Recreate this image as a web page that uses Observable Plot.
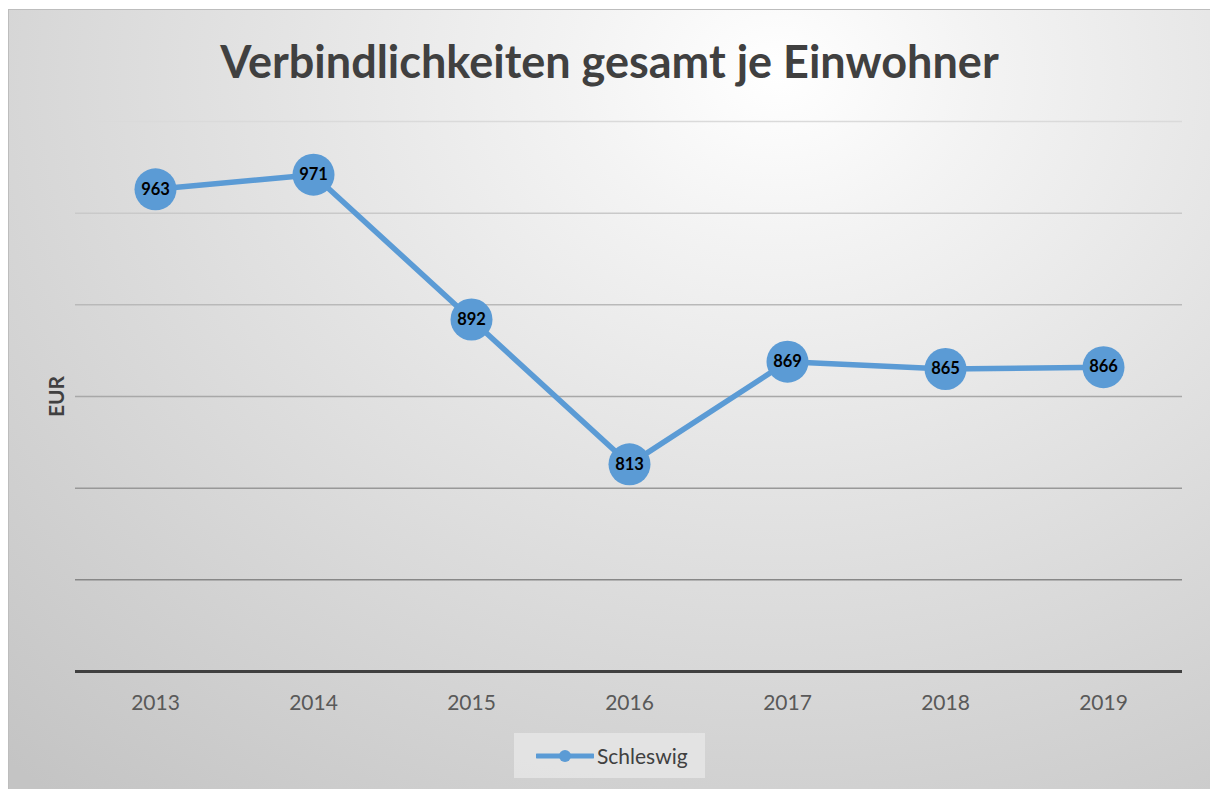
<!DOCTYPE html>
<html>
<head>
<meta charset="utf-8">
<script src="https://cdn.jsdelivr.net/npm/d3@7"></script>
<script src="https://cdn.jsdelivr.net/npm/@observablehq/plot@0.6"></script>
<style>
  html, body { margin: 0; padding: 0; width: 1210px; height: 789px; overflow: hidden; background: #ffffff; font-family: Lato, "Open Sans", sans-serif; }
  #panel {
    position: absolute; left: 8px; top: 9px; width: 1202px; height: 780px;
    box-sizing: border-box; border-top: 1px solid #bdbdbd; border-left: 1px solid #bdbdbd;
    background: radial-gradient(ellipse 95% 120% at 64% 8%, #ffffff 0%, #f3f3f3 18%, #e3e3e3 45%, #d2d2d2 75%, #c4c4c4 100%);
  }
  #title {
    position: absolute; left: 0; top: 31px; width: 1219px; text-align: center;
    font-weight: 700; font-size: 45px; color: #404040; line-height: 60px;
  }
  #chart { position: absolute; left: 0; top: 100px; }
  #legend {
    position: absolute; left: 514px; top: 733px; width: 191px; height: 45px;
    background: rgba(232, 232, 232, 0.75); display: flex; align-items: center;
    font-size: 21px; color: #404040;
  }
  #legend svg { margin-left: 22px; margin-right: 3px; }
</style>
</head>
<body>
<div id="panel"></div>
<div id="title"></div>
<div id="chart"></div>
<div id="legend"></div>
<script>
// Liabilities per inhabitant, Schleswig
const chartTitle = "Verbindlichkeiten gesamt je Einwohner";
const yLabel = "EUR";
const seriesName = "Schleswig";
const years = ["2013", "2014", "2015", "2016", "2017", "2018", "2019"];
const values = [963, 971, 892, 813, 869, 865, 866];
const gridTicks = [750, 800, 850, 900, 950, 1000];
const yDomain = [700, 1000];

const blue = "#5b9bd5";
const data = years.map((year, i) => ({year, value: values[i]}));

// gridlines fade from dark near the baseline to light at the top
const gridColor = d3.scaleLinear().domain([750, 1000]).range(["#878787", "#dadada"]);

document.getElementById("title").textContent = chartTitle;

const plot = Plot.plot({
  width: 1210,
  height: 630,
  marginTop: 21,
  marginBottom: 59,
  marginLeft: 75,
  marginRight: 28,
  style: {background: "transparent", overflow: "visible", fontFamily: "Lato, 'Open Sans', sans-serif"},
  x: {type: "point", domain: years, padding: 0.5, label: null},
  y: {domain: yDomain, axis: null},
  marks: [
    Plot.ruleY(gridTicks, {stroke: d => gridColor(d), strokeWidth: 1.5}),
    Plot.ruleY([yDomain[0]], {stroke: "#404040", strokeWidth: 3}),
    Plot.axisX({tickSize: 0, tickPadding: 24, fontSize: 21, color: "#595959", label: null}),
    Plot.text([yLabel], {frameAnchor: "left", textAnchor: "middle", rotate: -90, dx: -18, fontSize: 21, fontWeight: 700, fill: "#404040"}),
    Plot.line(data, {x: "year", y: "value", stroke: blue, strokeWidth: 5.5}),
    Plot.dot(data, {x: "year", y: "value", r: 21, fill: blue, stroke: "none"}),
    Plot.text(data, {x: "year", y: "value", text: d => String(d.value), fontSize: 16.5, fontWeight: 700, fill: "#000000"})
  ]
});
document.getElementById("chart").appendChild(plot);

// legend: line swatch with marker, then the series name
const legend = document.getElementById("legend");
const sw = d3.create("svg").attr("width", 58).attr("height", 20);
sw.append("line").attr("x1", 1).attr("x2", 57).attr("y1", 10).attr("y2", 10)
  .attr("stroke", blue).attr("stroke-width", 5).attr("stroke-linecap", "round");
sw.append("circle").attr("cx", 29).attr("cy", 10).attr("r", 6).attr("fill", blue);
legend.appendChild(sw.node());
const lt = document.createElement("span");
lt.textContent = seriesName;
legend.appendChild(lt);
</script>
</body>
</html>
